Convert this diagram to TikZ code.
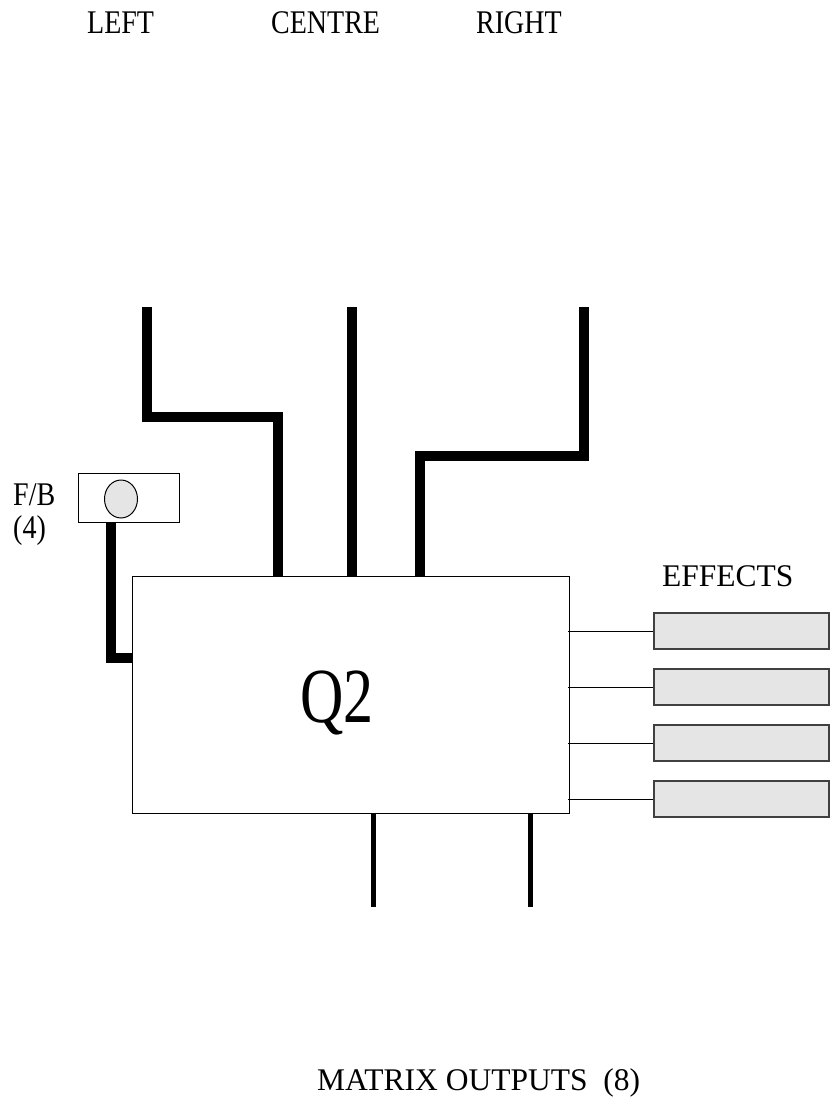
\documentclass[tikz,border=0pt]{standalone}
\usepackage{fontspec}
\setmainfont{Liberation Serif}
\usetikzlibrary{shapes.geometric}
\begin{document}
\begin{tikzpicture}[
  x=1pt,y=-1pt,
  label/.style={anchor=base west,inner sep=0pt,font=\fontsize{28}{30}\selectfont,yscale=1.18},
  biglabel/.style={anchor=base west,inner sep=0pt,font=\fontsize{31.5}{33}\selectfont},
  block/.style={draw,line width=1pt,minimum width=437pt,minimum height=237pt,inner sep=0pt},
  fxbox/.style={draw=black!75,line width=1.2pt,fill=gray!20,minimum width=175pt,minimum height=36pt,inner sep=0pt},
  bus/.style={line width=10pt},
  outbus/.style={line width=5pt},
  tap/.style={line width=1pt}
]
  \useasboundingbox (0,0) rectangle (834,1097);

  \node[label] (lleft) at (87,34) {LEFT};
  \node[label] (lcentre) at (271,34) {CENTRE};
  \node[label] (lright) at (476,34) {RIGHT};

  \node[block] (q2) at (351,694.5) {};
  \node[anchor=base west,inner sep=0pt,font=\fontsize{60}{62}\selectfont,yscale=1.3] (q2name) at (300,722) {Q2};

  \coordinate (inL) at (147,307);
  \coordinate (inC) at (352,307);
  \coordinate (inR) at (584,307);
  \draw[bus] (inL) -- ++(0,110) -| ([xshift=146pt]q2.north west);
  \draw[bus] (inC) -- (inC |- q2.north);
  \draw[bus] (inR) -- ++(0,149) -| ([xshift=288pt]q2.north west);

  % foldback
  \node[draw,line width=1pt,minimum width=101pt,minimum height=49pt,inner sep=0pt] (fb) at (128.5,497.5) {};
  \node[draw,ellipse,line width=1pt,fill=gray!20,minimum width=33pt,minimum height=38pt,inner sep=0pt] (knob) at (121,499) {};
  \draw[bus] ([xshift=-17.5pt]fb.south) |- ([yshift=-82pt]q2.north west);
  \node[label] (lfb) at (13,505) {F/B};
  \node[label] (lfbn) at (13,538) {(4)};

  % effects sends
  \node[biglabel] (lfx) at (662,586) {EFFECTS};
  \foreach \i in {1,...,4} {
    \node[fxbox] (fx\i) at (741.5,575+56*\i) {};
    \draw[tap] ([xshift=-2pt]q2.east |- fx\i.west) -- (fx\i.west);
  }

  % matrix outputs
  \coordinate (out1) at (373,907);
  \coordinate (out2) at (530,907);
  \draw[outbus] (out1 |- q2.south) -- (out1);
  \draw[outbus] (out2 |- q2.south) -- (out2);
  \node[biglabel] (lout) at (317,1090) {MATRIX OUTPUTS\ \ (8)};
\end{tikzpicture}
\end{document}
